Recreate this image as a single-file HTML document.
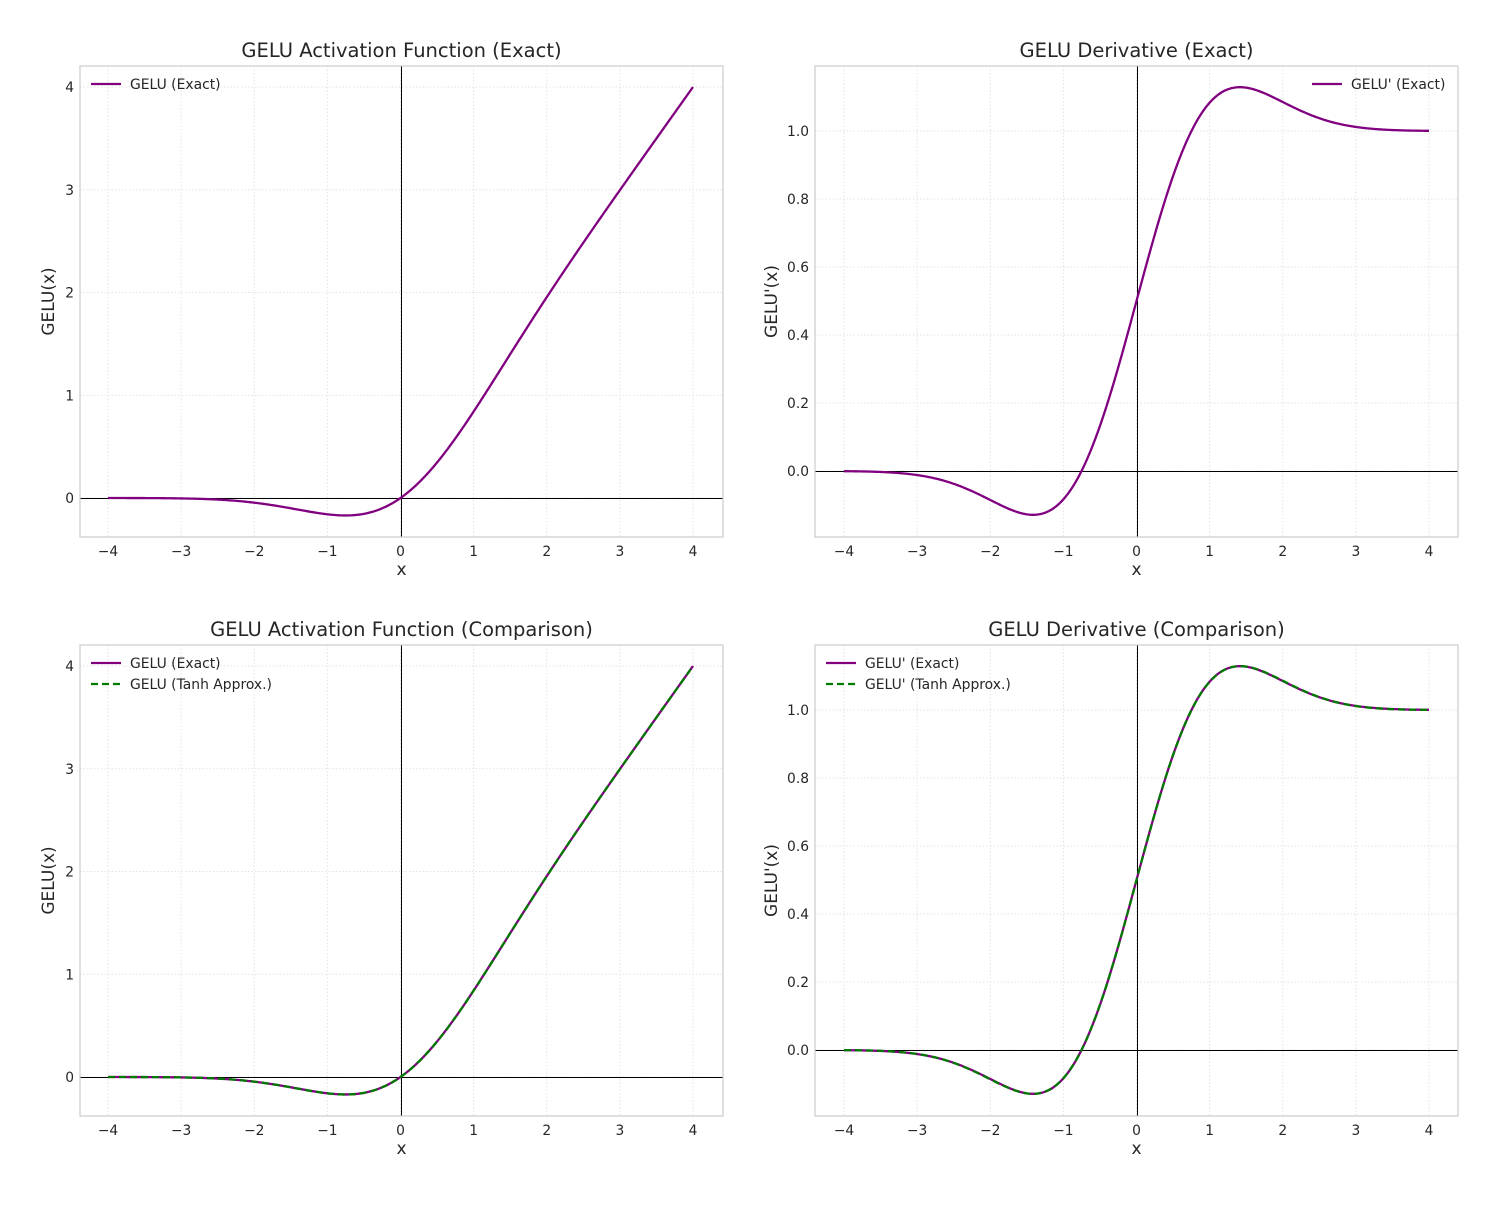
<!DOCTYPE html>
<html><head><meta charset="utf-8"><style>
body{margin:0;background:#fff}
svg text{font-family:"DejaVu Sans","Liberation Sans",sans-serif;fill:#262626}
</style></head><body>
<svg id="s" width="1500" height="1200" xmlns="http://www.w3.org/2000/svg"></svg>
<script>
function erf(x){var s=x<0?-1:1;x=Math.abs(x);var t=1/(1+0.3275911*x);
var y=1-(((((1.061405429*t-1.453152027)*t)+1.421413741)*t-0.284496736)*t+0.254829592)*t*Math.exp(-x*x);return s*y;}
function Phi(x){return 0.5*(1+erf(x/Math.SQRT2));}
function phi(x){return Math.exp(-x*x/2)/Math.sqrt(2*Math.PI);}
function g(x){return x*Phi(x);}
function gd(x){return Phi(x)+x*phi(x);}
var c=Math.sqrt(2/Math.PI);
function gt(x){return 0.5*x*(1+Math.tanh(c*(x+0.044715*x*x*x)));}
function gtd(x){var u=c*(x+0.044715*x*x*x),t=Math.tanh(u);return 0.5*(1+t)+0.5*x*(1-t*t)*c*(1+3*0.044715*x*x);}
var S=document.getElementById('s'),h='';
function panel(L,T,R,B,x0,ymap,yticks,ylab,title,fns,legRight,yfmt,yoff){
 var X=function(v){return x0+v*73.125};var Y=ymap;
 h+='<rect x="'+L+'" y="'+T+'" width="'+(R-L)+'" height="'+(B-T)+'" fill="#fff"/>';
 for(var i=-4;i<=4;i++){var px=X(i);h+='<line x1="'+px+'" x2="'+px+'" y1="'+T+'" y2="'+B+'" stroke="#e3e3e3" stroke-dasharray="1.5,2"/>';
 h+='<text x="'+px+'" y="'+(B+19)+'" font-size="13.8" text-anchor="middle">'+(i<0?'\u2212'+(-i):i)+'</text>';}
 yticks.forEach(function(v){var py=Y(v);h+='<line x1="'+L+'" x2="'+R+'" y1="'+py+'" y2="'+py+'" stroke="#e3e3e3" stroke-dasharray="1.5,2"/>';
 h+='<text x="'+(L-6)+'" y="'+(py+5)+'" font-size="13.8" text-anchor="end">'+yfmt(v)+'</text>';});
 var zx=Math.round(X(0))+0.5, zy=Math.round(Y(0))+0.5;
 h+='<line x1="'+zx+'" x2="'+zx+'" y1="'+T+'" y2="'+B+'" stroke="#000" stroke-width="1"/>';
 h+='<line x1="'+L+'" x2="'+R+'" y1="'+zy+'" y2="'+zy+'" stroke="#000" stroke-width="1"/>';
 fns.forEach(function(f){var d='';for(var k=0;k<=400;k++){var v=-4+8*k/400;d+=(k?'L':'M')+X(v).toFixed(2)+' '+Y(f[0](v)).toFixed(2);}
 h+='<path d="'+d+'" fill="none" stroke="'+f[1]+'" stroke-width="2.3"'+(f[2]?' stroke-dasharray="7,4"':'')+'/>';});
 h+='<rect x="'+L+'" y="'+T+'" width="'+(R-L)+'" height="'+(B-T)+'" fill="none" stroke="#ccc" stroke-width="1.2"/>';
 h+='<text x="'+((L+R)/2)+'" y="'+(T-9)+'" font-size="19.5" text-anchor="middle">'+title+'</text>';
 h+='<text x="'+((L+R)/2)+'" y="'+(B+38)+'" font-size="17" text-anchor="middle">x</text>';
 h+='<text transform="translate('+(L-yoff)+','+((T+B)/2)+') rotate(-90)" font-size="17" text-anchor="middle">'+ylab+'</text>';
 fns.forEach(function(f,i){var lx=legRight?R-146:L+11,ly=T+18+i*21;
 h+='<line x1="'+lx+'" x2="'+(lx+30)+'" y1="'+ly+'" y2="'+ly+'" stroke="'+f[1]+'" stroke-width="2.3"'+(f[2]?' stroke-dasharray="7,4"':'')+'/>';
 h+='<text x="'+(lx+39)+'" y="'+(ly+5)+'" font-size="13.9">'+f[3]+'</text>';});
}
var i0=function(v){return String(v)};
var f1=function(v){return v.toFixed(1)};
panel(80,66,723,537,400.5,function(v){return 498-v*102.75},[0,1,2,3,4],'GELU(x)','GELU Activation Function (Exact)',[[g,'#800080',0,'GELU (Exact)']],0,i0,26);
panel(815,66,1458,537,1136.5,function(v){return 471-v*340},[0,0.2,0.4,0.6,0.8,1.0],"GELU'(x)",'GELU Derivative (Exact)',[[gd,'#800080',0,"GELU' (Exact)"]],1,f1,38);
panel(80,645,723,1116,400.5,function(v){return 1077-v*102.75},[0,1,2,3,4],'GELU(x)','GELU Activation Function (Comparison)',[[g,'#800080',0,'GELU (Exact)'],[gt,'#007a00',1,'GELU (Tanh Approx.)']],0,i0,26);
panel(815,645,1458,1116,1136.5,function(v){return 1050-v*340},[0,0.2,0.4,0.6,0.8,1.0],"GELU'(x)",'GELU Derivative (Comparison)',[[gd,'#800080',0,"GELU' (Exact)"],[gtd,'#007a00',1,"GELU' (Tanh Approx.)"]],0,f1,38);
S.innerHTML=h;
</script>
</body></html>
